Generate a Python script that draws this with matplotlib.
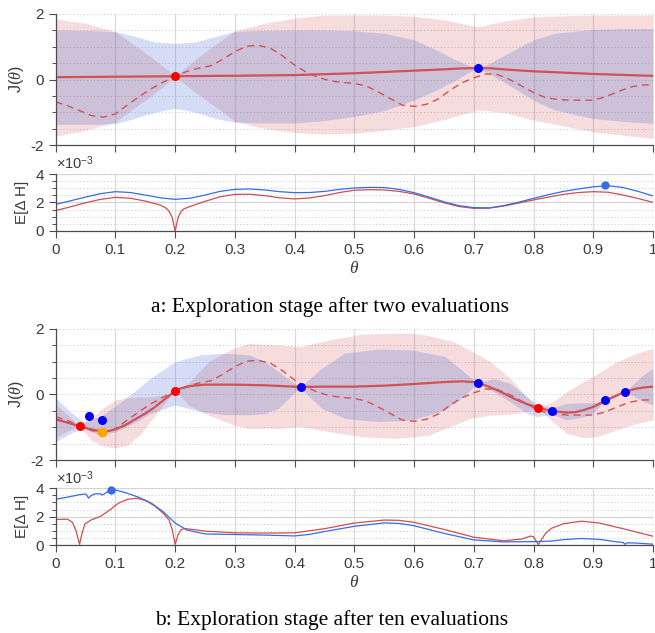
import numpy as np
import matplotlib
matplotlib.use("Agg")
import matplotlib.pyplot as plt
from matplotlib.ticker import MultipleLocator, FixedLocator, FuncFormatter

plt.rcParams['font.family'] = ['Liberation Sans', 'DejaVu Sans']
plt.rcParams['mathtext.fontset'] = 'custom'
plt.rcParams['mathtext.rm'] = 'Liberation Sans'
plt.rcParams['mathtext.it'] = 'Liberation Serif:italic'

# ── true function (dashed), same in both stages ──────────────────
TRUE_X = [0, 0.02, 0.04, 0.06, 0.08, 0.1, 0.12, 0.14, 0.16, 0.18, 0.2, 0.22, 0.24, 0.26, 0.28,
          0.3, 0.32, 0.34, 0.36, 0.38, 0.4, 0.42, 0.44, 0.46, 0.48, 0.5, 0.52, 0.54, 0.56, 0.58,
          0.6, 0.62, 0.64, 0.66, 0.68, 0.7, 0.72, 0.74, 0.76, 0.78, 0.8, 0.82, 0.84, 0.86, 0.88,
          0.9, 0.92, 0.94, 0.96, 0.98, 1.0]
TRUE_Y = [-0.68, -0.80, -0.95, -1.10, -1.15, -1.05, -0.78, -0.52, -0.28, -0.08, 0.10, 0.25, 0.35,
          0.42, 0.62, 0.85, 1.02, 1.04, 0.95, 0.72, 0.44, 0.22, 0.06, -0.04, -0.09, -0.12, -0.20,
          -0.38, -0.58, -0.78, -0.82, -0.76, -0.60, -0.33, -0.10, 0.05, 0.17, 0.15, 0.0, -0.20,
          -0.40, -0.55, -0.61, -0.63, -0.63, -0.63, -0.53, -0.38, -0.24, -0.17, -0.16]

# ── stage a: two evaluations ─────────────────────────────────────
MEAN_A_X = [0, 0.1, 0.2, 0.3, 0.4, 0.5, 0.6, 0.65, 0.68, 0.707, 0.73, 0.75, 0.8, 0.9, 1.0]
MEAN_A_Y = [0.07, 0.085, 0.10, 0.115, 0.135, 0.19, 0.27, 0.31, 0.34, 0.35, 0.34, 0.31, 0.25, 0.17, 0.11]

RED_A_X = [0, 0.05, 0.1, 0.12, 0.14, 0.16, 0.18, 0.2, 0.22, 0.24, 0.26, 0.28, 0.3, 0.35, 0.4,
           0.45, 0.5, 0.55, 0.6, 0.65, 0.707, 0.75, 0.8, 0.85, 0.9, 0.95, 1.0]
RED_A_UP = [1.84, 1.72, 1.46, 1.20, 0.95, 0.68, 0.40, 0.10, 0.41, 0.70, 0.97, 1.24, 1.48, 1.72,
            1.87, 1.97, 1.97, 1.97, 1.93, 1.82, 1.61, 1.78, 1.91, 1.95, 1.97, 1.97, 1.97]
RED_A_LO = [-1.73, -1.55, -1.30, -1.03, -0.76, -0.50, -0.22, 0.10, -0.20, -0.47, -0.74, -1.00,
            -1.28, -1.50, -1.62, -1.67, -1.64, -1.55, -1.44, -1.22, -0.93, -1.00, -1.24, -1.42,
            -1.60, -1.70, -1.80]

BLUE_A_X = [0, 0.05, 0.1, 0.13, 0.165, 0.2, 0.235, 0.27, 0.3, 0.35, 0.4, 0.45, 0.5, 0.55, 0.6,
            0.64, 0.67, 0.69, 0.707, 0.725, 0.745, 0.775, 0.8, 0.835, 0.9, 0.95, 1.0]
BLUE_A_UP = [1.51, 1.50, 1.46, 1.33, 1.15, 1.10, 1.15, 1.33, 1.47, 1.50, 1.51, 1.51, 1.49, 1.41,
             1.21, 0.88, 0.60, 0.45, 0.35, 0.48, 0.68, 0.98, 1.21, 1.41, 1.53, 1.55, 1.56]
BLUE_A_LO = [-1.37, -1.37, -1.35, -1.20, -1.00, -0.88, -1.00, -1.20, -1.30, -1.33, -1.33, -1.25,
             -1.13, -0.95, -0.63, -0.30, -0.02, 0.20, 0.35, 0.18, -0.02, -0.35, -0.63, -0.93,
             -1.19, -1.28, -1.34]

RED_PTS_A = ([0.2], [0.10])
BLUE_PTS_A = ([0.707], [0.35])

# expected entropy change (x 1e-3)
H_A_X = [0, 0.025, 0.05, 0.075, 0.1, 0.125, 0.15, 0.175, 0.2, 0.225, 0.25, 0.275, 0.3, 0.325,
         0.35, 0.375, 0.4, 0.425, 0.45, 0.475, 0.5, 0.525, 0.55, 0.575, 0.6, 0.625, 0.65, 0.675,
         0.7, 0.725, 0.75, 0.775, 0.8, 0.825, 0.85, 0.875, 0.9, 0.925, 0.95, 0.975, 1.0]
H_BLUE_A = [1.87, 2.12, 2.38, 2.62, 2.76, 2.70, 2.52, 2.33, 2.22, 2.30, 2.52, 2.78, 2.92, 2.95,
            2.88, 2.76, 2.69, 2.70, 2.78, 2.92, 3.02, 3.06, 3.05, 2.92, 2.69, 2.38, 2.05, 1.78,
            1.64, 1.62, 1.78, 2.02, 2.29, 2.55, 2.78, 2.95, 3.10, 3.18, 3.05, 2.78, 2.46]
H_RED_A_X = [0, 0.025, 0.05, 0.075, 0.1, 0.125, 0.15, 0.175, 0.185, 0.19, 0.195, 0.2, 0.205,
             0.21, 0.215, 0.225, 0.25, 0.275, 0.3, 0.325, 0.35, 0.375, 0.4, 0.425, 0.45, 0.475,
             0.5, 0.525, 0.55, 0.575, 0.6, 0.625, 0.65, 0.675, 0.7, 0.725, 0.75, 0.775, 0.8,
             0.825, 0.85, 0.875, 0.9, 0.925, 0.95, 0.975, 1.0]
H_RED_A = [1.43, 1.70, 1.98, 2.22, 2.36, 2.30, 2.10, 1.82, 1.60, 1.38, 0.95, 0.0, 0.95, 1.38,
           1.56, 1.72, 2.08, 2.40, 2.57, 2.58, 2.48, 2.33, 2.25, 2.32, 2.48, 2.70, 2.86, 2.90,
           2.88, 2.78, 2.60, 2.30, 1.98, 1.72, 1.59, 1.60, 1.75, 1.96, 2.18, 2.38, 2.57, 2.70,
           2.76, 2.72, 2.52, 2.28, 2.01]
H_PT_A = ([0.92], [3.2])

# ── stage b: ten evaluations ─────────────────────────────────────
MEAN_B_X = [0, 0.02, 0.04, 0.06, 0.078, 0.09, 0.1, 0.115, 0.13, 0.15, 0.165, 0.18, 0.19, 0.2,
            0.21, 0.226, 0.25, 0.3, 0.35, 0.41, 0.45, 0.5, 0.55, 0.6, 0.65, 0.68, 0.7, 0.707,
            0.725, 0.744, 0.77, 0.79, 0.807, 0.831, 0.855, 0.87, 0.883, 0.9, 0.92, 0.935, 0.953,
            0.97, 0.983, 1.0]
MEAN_B_Y = [-0.76, -0.86, -0.97, -1.07, -1.13, -1.11, -1.06, -0.95, -0.79, -0.58, -0.40, -0.18,
            -0.04, 0.12, 0.19, 0.26, 0.30, 0.30, 0.28, 0.23, 0.24, 0.24, 0.27, 0.32, 0.38, 0.40,
            0.38, 0.35, 0.24, 0.09, -0.15, -0.30, -0.40, -0.51, -0.55, -0.54, -0.48, -0.38,
            -0.19, -0.06, 0.08, 0.17, 0.21, 0.24]

RED_B_X = [0, 0.02, 0.04, 0.06, 0.08, 0.1, 0.12, 0.141, 0.158, 0.18, 0.2, 0.222, 0.256, 0.298,
           0.323, 0.373, 0.409, 0.456, 0.512, 0.568, 0.596, 0.624, 0.665, 0.694, 0.728, 0.761,
           0.789, 0.807, 0.832, 0.856, 0.884, 0.906, 0.939, 0.973, 1.0]
RED_B_UP = [-0.30, -0.62, -0.97, -0.72, -0.40, -0.17, -0.10, -0.07, -0.07, -0.02, 0.12, 0.34,
            1.0, 1.41, 1.56, 1.51, 1.46, 1.66, 1.84, 1.87, 1.87, 1.80, 1.62, 1.35, 1.0, 0.49,
            -0.07, -0.40, -0.22, 0.09, 0.40, 0.62, 1.0, 1.26, 1.41]
RED_B_LO = [-1.30, -1.12, -0.97, -1.40, -1.58, -1.63, -1.55, -1.23, -0.83, -0.32, 0.12, -0.32,
            -0.63, -0.93, -1.03, -1.03, -0.98, -1.13, -1.29, -1.34, -1.30, -1.24, -0.95, -0.73,
            -0.63, -0.60, -0.52, -0.40, -0.83, -1.19, -1.32, -1.29, -1.08, -0.88, -0.78]

BLUE_B_X = [0, 0.024, 0.046, 0.074, 0.102, 0.135, 0.158, 0.2, 0.242, 0.281, 0.325, 0.35, 0.373,
            0.409, 0.445, 0.484, 0.54, 0.596, 0.652, 0.683, 0.706, 0.733, 0.761, 0.789, 0.807,
            0.831, 0.856, 0.884, 0.9, 0.92, 0.937, 0.953, 0.984, 1.0]
BLUE_B_UP = [-0.10, -0.52, -0.83, -0.68, -0.32, 0.14, 0.49, 1.0, 1.21, 1.26, 1.21, 1.0, 0.7,
             0.22, 0.8, 1.26, 1.39, 1.36, 1.16, 0.7, 0.35, 0.49, 0.34, -0.07, -0.32, -0.40,
             -0.27, -0.25, -0.25, -0.19, -0.02, 0.09, 0.6, 0.8]
BLUE_B_LO = [-1.44, -1.19, -1.03, -1.24, -1.13, -0.83, -0.58, -0.32, -0.52, -0.61, -0.62, -0.58,
             -0.42, 0.22, -0.42, -0.73, -0.83, -0.78, -0.47, -0.05, 0.35, 0.09, -0.22, -0.58,
             -0.68, -0.60, -0.78, -0.68, -0.55, -0.19, -0.10, 0.09, -0.22, -0.32]

RED_PTS_B = ([0.04, 0.2, 0.807], [-0.97, 0.12, -0.40])
BLUE_PTS_B = ([0.055, 0.078, 0.41, 0.707, 0.831, 0.92, 0.953],
              [-0.65, -0.78, 0.22, 0.35, -0.51, -0.18, 0.09])
ORANGE_PTS_B = ([0.077], [-1.14])

H_BLUE_B_X = [0, 0.02, 0.04, 0.05, 0.053, 0.055, 0.058, 0.065, 0.075, 0.078, 0.082, 0.092, 0.1,
              0.12, 0.14, 0.16, 0.18, 0.2, 0.22, 0.25, 0.3, 0.35, 0.4, 0.425, 0.45, 0.5, 0.55,
              0.575, 0.6, 0.65, 0.7, 0.75, 0.8, 0.83, 0.85, 0.88, 0.91, 0.94, 0.95, 0.953,
              0.956, 0.97, 1.0]
H_BLUE_B = [3.22, 3.38, 3.55, 3.60, 3.45, 3.30, 3.45, 3.60, 3.62, 3.52, 3.62, 3.90, 3.88, 3.65,
            3.35, 2.95, 2.35, 1.55, 1.05, 0.78, 0.74, 0.70, 0.64, 0.75, 0.95, 1.32, 1.56, 1.52,
            1.36, 0.82, 0.36, 0.22, 0.24, 0.28, 0.38, 0.46, 0.40, 0.22, 0.18, 0.05, 0.15, 0.14,
            0.06]
H_RED_B_X = [0, 0.02, 0.028, 0.034, 0.04, 0.044, 0.049, 0.06, 0.075, 0.09, 0.105, 0.12, 0.135,
             0.15, 0.165, 0.18, 0.19, 0.195, 0.2, 0.205, 0.21, 0.215, 0.225, 0.25, 0.3, 0.35,
             0.4, 0.45, 0.5, 0.55, 0.575, 0.6, 0.65, 0.7, 0.75, 0.78, 0.795, 0.8, 0.804, 0.808,
             0.812, 0.82, 0.83, 0.85, 0.88, 0.91, 0.95, 1.0]
H_RED_B = [1.80, 1.82, 1.60, 1.00, 0.05, 0.80, 1.50, 1.78, 2.02, 2.45, 2.95, 3.22, 3.30, 3.15,
           2.78, 2.25, 1.75, 1.10, 0.05, 0.75, 1.08, 1.16, 1.12, 0.98, 0.86, 0.84, 0.86, 1.15,
           1.55, 1.76, 1.74, 1.60, 1.10, 0.55, 0.30, 0.42, 0.63, 0.58, 0.30, 0.02, 0.30, 0.82,
           1.18, 1.50, 1.68, 1.55, 1.15, 0.62]
H_PT_B = ([0.092], [3.9])

# ── colours ──────────────────────────────────────────────────────
LINE_RED = (0.82, 0.32, 0.32)
BAND_RED = (0.8, 0.2, 0.2)
BAND_BLUE = (0.175, 0.35, 0.825)
H_BLUE = (0.22, 0.42, 0.90)
H_RED = (0.82, 0.30, 0.30)
AX_COL = "#4d4d4d"

fmt = FuncFormatter(lambda v, p: f"{v:g}")


def style(ax, ymin, ymax, major, minor, xlabels, major_ygrid):
    ax.set_xlim(0, 1)
    ax.set_ylim(ymin, ymax)
    ax.xaxis.set_major_locator(MultipleLocator(0.1))
    ax.yaxis.set_major_locator(MultipleLocator(major))
    ax.yaxis.set_minor_locator(FixedLocator(np.arange(ymin, ymax + minor / 2, minor)))
    ax.yaxis.remove_overlapping_locs = False
    ax.xaxis.set_major_formatter(fmt)
    ax.yaxis.set_major_formatter(fmt)
    ax.grid(which="major", axis="x", color="#dadada", lw=0.9)
    if major_ygrid:
        ax.grid(which="major", axis="y", color="#dadada", lw=0.9)
    ax.grid(which="minor", axis="y", color="#c4c4c4", lw=0.7, ls=(0, (1, 2.5)))
    ax.set_axisbelow(True)
    for s in ["top", "right"]:
        ax.spines[s].set_visible(False)
    for s in ["left", "bottom"]:
        ax.spines[s].set_color(AX_COL)
        ax.spines[s].set_linewidth(0.9)
    ax.tick_params(which="major", direction="out", length=5, width=0.8, color=AX_COL,
                   labelcolor="#3a3a3a", labelsize=11)
    ax.tick_params(which="minor", direction="out", length=3, width=0.7, color=AX_COL)
    ax.tick_params(axis="x", which="minor", length=0)
    if not xlabels:
        ax.tick_params(axis="x", labelbottom=False)


def draw_j(ax, mx, my, rx, rup, rlo, bx, bup, blo):
    ax.fill_between(rx, rlo, rup, color=BAND_RED, alpha=0.17, lw=0)
    ax.fill_between(bx, blo, bup, color=BAND_BLUE, alpha=0.2, lw=0)
    ax.plot(TRUE_X, TRUE_Y, color=LINE_RED, lw=1.0, ls=(0, (5, 3.5)))
    ax.plot(mx, my, color=LINE_RED, lw=1.6)
    style(ax, -2, 2, 2, 0.5, False, False)
    ax.set_ylabel(r"J($\theta$)", fontsize=11.5, color="#3a3a3a")
    ax.yaxis.set_label_coords(-0.05, 0.5)


def draw_h(ax, bx, by, rx, ry, pt):
    ax.plot(rx, ry, color=H_RED, lw=0.9)
    ax.plot(bx, by, color=H_BLUE, lw=0.9)
    ax.plot(pt[0], pt[1], "o", color=H_BLUE, ms=6, mec="none", clip_on=False, zorder=5)
    style(ax, 0, 4, 2, 0.5, True, True)
    ax.set_ylabel("E[\u0394 H]", fontsize=11, color="#3a3a3a")
    ax.yaxis.set_label_coords(-0.045, 0.5)
    ax.set_xlabel(r"$\theta$", fontsize=12.5, color="#3a3a3a", labelpad=2)
    ax.text(0.0, 1.03, r"$\times$10$^{-3}$", transform=ax.transAxes, fontsize=10.5,
            color="#3a3a3a", ha="left", va="bottom")


fig = plt.figure(figsize=(6.55, 6.33), dpi=100)
L, W = 0.085, 0.912
ax_ja = fig.add_axes([L, 0.7709, W, 0.207])
ax_ha = fig.add_axes([L, 0.6351, W, 0.090])
ax_jb = fig.add_axes([L, 0.2733, W, 0.207])
ax_hb = fig.add_axes([L, 0.1390, W, 0.0896])

draw_j(ax_ja, MEAN_A_X, MEAN_A_Y, RED_A_X, RED_A_UP, RED_A_LO, BLUE_A_X, BLUE_A_UP, BLUE_A_LO)
ax_ja.plot(*RED_PTS_A, "o", color="#ff0000", ms=6.5, mec="none", zorder=5)
ax_ja.plot(*BLUE_PTS_A, "o", color="#0000ff", ms=6.5, mec="none", zorder=5)
draw_h(ax_ha, H_A_X, H_BLUE_A, H_RED_A_X, H_RED_A, H_PT_A)

draw_j(ax_jb, MEAN_B_X, MEAN_B_Y, RED_B_X, RED_B_UP, RED_B_LO, BLUE_B_X, BLUE_B_UP, BLUE_B_LO)
ax_jb.plot(*RED_PTS_B, "o", color="#ff0000", ms=6.5, mec="none", zorder=5)
ax_jb.plot(*BLUE_PTS_B, "o", color="#0000ff", ms=6.5, mec="none", zorder=5)
ax_jb.plot(*ORANGE_PTS_B, "o", color="#ffa500", ms=7, mec="none", zorder=5)
draw_h(ax_hb, H_BLUE_B_X, H_BLUE_B, H_RED_B_X, H_RED_B, H_PT_B)

fig.text(0.504, 1 - 307 / 633, "a: Exploration stage after two evaluations",
         family="Liberation Serif", fontsize=15.5, ha="center", va="center")
fig.text(0.506, 1 - 620 / 633, "b: Exploration stage after ten evaluations",
         family="Liberation Serif", fontsize=15.5, ha="center", va="center")

fig.savefig("out.png", dpi=100)
